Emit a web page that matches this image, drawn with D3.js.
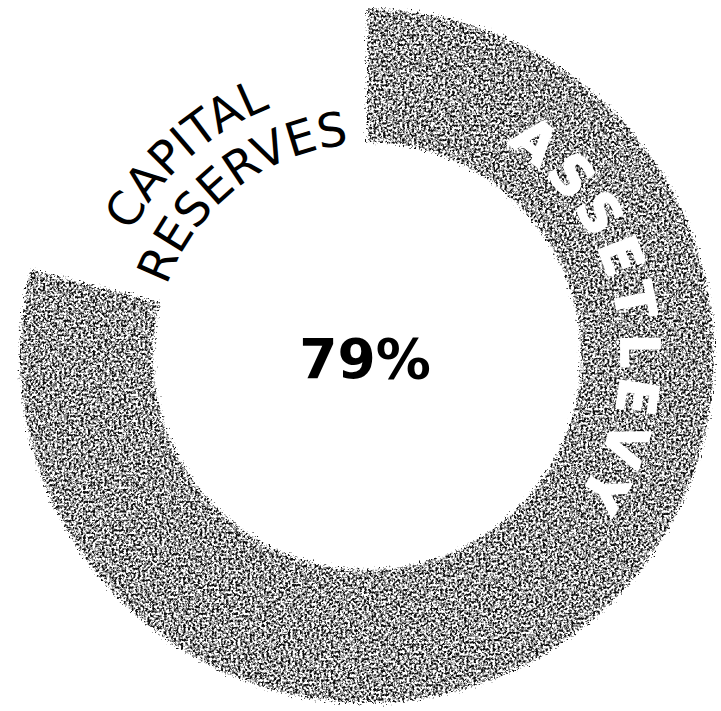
<!DOCTYPE html>
<html>
<head>
<meta charset="utf-8">
<script src="https://cdn.jsdelivr.net/npm/d3@7/dist/d3.min.js"></script>
<style>
  html, body { margin: 0; padding: 0; background: #ffffff; }
  svg { display: block; }
</style>
</head>
<body>
<svg id="chart" width="721" height="711"></svg>
<script>
// ---- data ----
const categories = ["ASSET LEVY", "CAPITAL RESERVES"];
const values = [79, 21];
const labelLines = [["ASSET LEVY"], ["CAPITAL", "RESERVES"]];
const centerLabel = "79%";

// ---- layout ----
const W = 721, H = 711;
const cx = 367, cy = 356;
const rInner = 214, rOuter = 347;
const deg = Math.PI / 180;

const svg = d3.select("#chart");
const defs = svg.append("defs");

// grainy "photocopy" texture (region given in the slice's own, centred, coordinates)
const f = defs.append("filter")
  .attr("id", "grain")
  .attr("filterUnits", "userSpaceOnUse")
  .attr("x", -cx).attr("y", -cy).attr("width", W).attr("height", H)
  .attr("color-interpolation-filters", "sRGB");
f.append("feTurbulence")
  .attr("type", "fractalNoise").attr("baseFrequency", "0.42")
  .attr("numOctaves", 3).attr("seed", 4).attr("result", "noise");
f.append("feColorMatrix")
  .attr("in", "noise").attr("type", "matrix")
  .attr("values", "0 0 0 0 0.06  0 0 0 0 0.06  0 0 0 0 0.06  -3.6 0 0 0 2.22")
  .attr("result", "ink");
f.append("feTurbulence")
  .attr("type", "fractalNoise").attr("baseFrequency", "0.5")
  .attr("numOctaves", 1).attr("seed", 11).attr("result", "warp");
f.append("feDisplacementMap")
  .attr("in", "SourceGraphic").attr("in2", "warp")
  .attr("scale", 14).attr("xChannelSelector", "R").attr("yChannelSelector", "G")
  .attr("result", "shape");
f.append("feComposite")
  .attr("in", "ink").attr("in2", "shape").attr("operator", "in");

const g = svg.append("g").attr("transform", `translate(${cx},${cy})`);

const pie = d3.pie().sort(null).startAngle(0).endAngle(2 * Math.PI);
const arcs = pie(values);

const arc = d3.arc().innerRadius(rInner).outerRadius(rOuter);

// filled slice (only the first category is drawn, the rest is the gap)
g.selectAll("path.slice")
  .data(arcs.slice(0, 1))
  .join("path")
  .attr("class", "slice")
  .attr("d", arc)
  .attr("fill", "#000")
  .attr("filter", "url(#grain)");

// helper: clockwise circular path
function circlePath(r, a0, a1) {
  const x0 = r * Math.sin(a0), y0 = -r * Math.cos(a0);
  const x1 = r * Math.sin(a1), y1 = -r * Math.cos(a1);
  const large = (a1 - a0) > Math.PI ? 1 : 0;
  return `M${x0},${y0} A${r},${r} 0 ${large} 1 ${x1},${y1}`;
}

// ---- ASSET LEVY: white bold text inside the ring ----
const a0 = arcs[0].startAngle + 33.2 * deg;
defs.append("path").attr("id", "pathAsset").attr("d", circlePath(254, a0, a0 + 170 * deg));
g.append("text")
  .attr("font-family", "'DejaVu Sans', Verdana, sans-serif")
  .attr("font-weight", "bold")
  .attr("font-size", 54)
  .attr("letter-spacing", 6.8)
  .attr("word-spacing", -21)
  .attr("fill", "#ffffff")
  .attr("stroke", "#ffffff")
  .attr("stroke-width", 1.5)
  .attr("stroke-linejoin", "round")
  .append("textPath")
  .attr("href", "#pathAsset")
  .attr("startOffset", 0)
  .text(labelLines[0][0]);

// ---- CAPITAL RESERVES: black text in the gap ----
const gapMid = (arcs[1].startAngle + arcs[1].endAngle) / 2;
const capLines = [
  { text: labelLines[1][0], r: 266, mid: gapMid - 4 * deg },
  { text: labelLines[1][1], r: 212, mid: gapMid }
];
capLines.forEach((d, i) => {
  const id = "pathCap" + i;
  defs.append("path").attr("id", id).attr("d", circlePath(d.r, d.mid - 90 * deg, d.mid + 90 * deg));
  g.append("text")
    .attr("font-family", "'DejaVu Sans', Verdana, sans-serif")
    .attr("font-size", 47)
    .attr("fill", "#000")
    .attr("text-anchor", "middle")
    .append("textPath")
    .attr("href", "#" + id)
    .attr("startOffset", "50%")
    .text(d.text);
});

// ---- center label ----
g.append("text")
  .attr("x", -2)
  .attr("y", 22)
  .attr("text-anchor", "middle")
  .attr("font-family", "'DejaVu Sans', Verdana, sans-serif")
  .attr("font-weight", "bold")
  .attr("font-size", 55)
  .attr("fill", "#000")
  .text(centerLabel);
</script>
</body>
</html>
